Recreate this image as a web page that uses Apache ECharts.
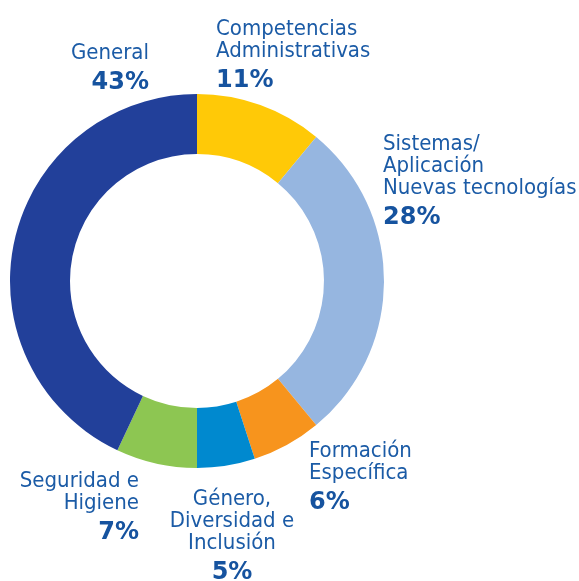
<!DOCTYPE html>
<html>
<head>
<meta charset="utf-8">
<script src="https://cdn.jsdelivr.net/npm/echarts@6/dist/echarts.min.js"></script>
<style>
  html, body { margin: 0; padding: 0; background: #fff; }
  #chart { width: 579px; height: 581px; }
</style>
</head>
<body>
<div id="chart"></div>
<script>
var categories = ['Competencias\nAdministrativas', 'Sistemas/\nAplicación\nNuevas tecnologías', 'Formación\nEspecífica', 'Género,\nDiversidad e\nInclusión', 'Seguridad e\nHigiene', 'General'];
var values = [11, 28, 6, 5, 7, 43];
var colors = ['#FFC907', '#96B6E0', '#F7941D', '#0089CF', '#8DC652', '#22409A'];
// label anchor per slice: x, y (top), align
var labelPos = [[216, 18, 'left'], [383, 133, 'left'], [309, 440, 'left'], [232, 488, 'center'], [139, 470, 'right'], [149, 42, 'right']];

var myChart = echarts.init(document.getElementById('chart'));
var option = {
    animation: false,
    series: [{
        type: 'pie',
        center: [197, 281],
        radius: [127, 187],
        startAngle: 90,
        clockwise: true,
        avoidLabelOverlap: false,
        labelLine: { show: false },
        label: {
            show: true,
            overflow: 'none',
            formatter: function (p) {
                return '{n|' + p.name + '}\n{p|' + p.value + '%}';
            },
            rich: {
                n: { fontFamily: 'Liberation Sans Narrow, DejaVu Sans Condensed, sans-serif', fontSize: 22, lineHeight: 22, color: '#1B5BA6' },
                p: { fontFamily: 'DejaVu Sans', fontWeight: 'bold', fontSize: 24, lineHeight: 38, color: '#16539F' }
            }
        },
        labelLayout: function (params) {
            var lp = labelPos[params.dataIndex];
            return { x: lp[0], y: lp[1], align: lp[2], verticalAlign: 'top', hideOverlap: false };
        },
        data: values.map(function (v, i) {
            return { name: categories[i], value: v, itemStyle: { color: colors[i] } };
        })
    }]
};
myChart.setOption(option);
</script>
</body>
</html>
